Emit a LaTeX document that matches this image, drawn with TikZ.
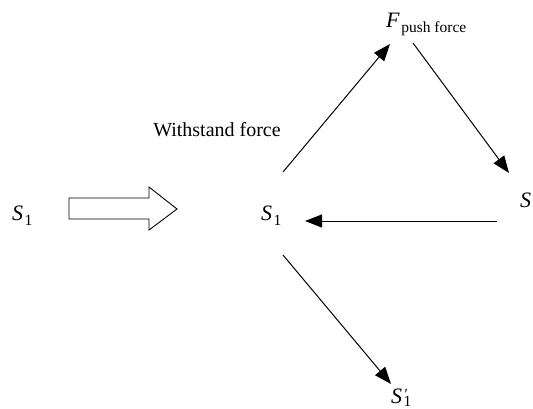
\documentclass[tikz,border=0pt]{standalone}
\usepackage{fontspec}
\setmainfont{Liberation Serif}
\usetikzlibrary{arrows.meta}
\newcommand{\subsz}{\fontsize{15.5}{16}\selectfont}
\newcommand{\varsub}[2]{\textit{#1}\kern1.5pt\raisebox{-5pt}{\subsz #2}}
\begin{document}
\begin{tikzpicture}[x=1pt,y=-1pt,
  lbl/.style={inner sep=0pt,font=\fontsize{20}{24}\selectfont},
  var/.style={inner sep=0pt,font=\fontsize{22}{26}\selectfont},
  conn/.style={line width=1pt,-{Triangle[length=17pt,width=13pt]}}]
\useasboundingbox (0,0) rectangle (533,408);
% labels
\node[var,anchor=base west] (s1left) at (12,220) {\varsub{S}{1}};
\node[var,anchor=base west] (s1mid) at (261,220) {\varsub{S}{1}};
\node[var,anchor=base west] (fpush) at (386,27) {\varsub{F}{push force}};
\node[var,anchor=base west] (sright) at (520,207) {\textit{S}};
\node[var,anchor=base west] (s1prime) at (391,403) {\textit{S}\kern1.5pt\rlap{\raisebox{-3pt}{\subsz 1}}\raisebox{4pt}{\subsz\textit{′}}};
\node[lbl] (wforce) at (217,130) {Withstand force};
% connector end points
\coordinate (a1s) at (283,172); \coordinate (a1e) at (390,44);
\coordinate (a2s) at (413,43);  \coordinate (a2e) at (509,173);
\coordinate (a3s) at (497,221); \coordinate (a3e) at (305,221);
\coordinate (a4s) at (283,255); \coordinate (a4e) at (391,384);
\draw[conn] (a1s) -- (a1e);
\draw[conn] (a2s) -- (a2e);
\draw[conn] (a3s) -- (a3e);
\draw[conn] (a4s) -- (a4e);
% hollow block arrow
\draw[line width=0.9pt,line join=miter] (69,198) -- (149,198) -- (149,187) -- (177,209) -- (149,230) -- (149,219) -- (69,219) -- cycle;
\end{tikzpicture}
\end{document}
